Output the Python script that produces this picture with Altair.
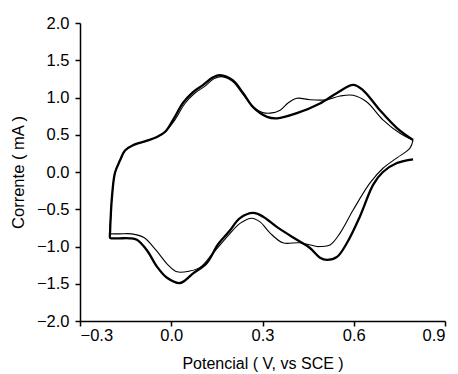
import altair as alt
import pandas as pd

# Thick curve (starts at +0.8 V, cathodic sweep, then anodic sweep)
thick_x = [0.795, 0.742, 0.696, 0.664, 0.62, 0.578, 0.545, 0.512, 0.489, 0.456, 0.413, 0.348,
           0.302, 0.269, 0.226, 0.19, 0.154, 0.117, 0.072, 0.029, -0.014, -0.047, -0.08, -0.113,
           -0.136, -0.17, -0.192, -0.201, -0.201, -0.199, -0.195, -0.185, -0.168, -0.152, -0.126,
           -0.08, -0.047, -0.02, 0.006, 0.039, 0.068, 0.105, 0.137, 0.16, 0.203, 0.236, 0.269,
           0.315, 0.348, 0.413, 0.489, 0.545, 0.598, 0.63, 0.686, 0.742, 0.795]
thick_y = [0.17, 0.12, 0.0, -0.17, -0.6, -0.95, -1.14, -1.18, -1.15, -1.02, -0.91, -0.74,
           -0.60, -0.55, -0.62, -0.8, -0.97, -1.22, -1.36, -1.49, -1.42, -1.27, -1.05, -0.91,
           -0.89, -0.89, -0.89, -0.885, -0.8, -0.6, -0.34, -0.01, 0.16, 0.29, 0.36,
           0.42, 0.47, 0.54, 0.70, 0.93, 1.06, 1.17, 1.27, 1.30, 1.23, 1.06, 0.87,
           0.74, 0.72, 0.79, 0.92, 1.06, 1.17, 1.1, 0.83, 0.59, 0.43]

# Thin curve (closed loop from +0.8 V)
thin_x = [0.795, 0.785, 0.742, 0.696, 0.653, 0.598, 0.555, 0.522, 0.489, 0.479, 0.423, 0.367,
          0.325, 0.292, 0.265, 0.226, 0.19, 0.137, 0.095, 0.06, 0.019, -0.01, -0.05, -0.09,
          -0.13, -0.17, -0.192, -0.201, -0.201, -0.199, -0.195, -0.185, -0.168, -0.152, -0.126,
          -0.08, -0.047, -0.02, 0.012, 0.045, 0.075, 0.11, 0.14, 0.165, 0.2, 0.236, 0.27, 0.3,
          0.325, 0.358, 0.385, 0.413, 0.456, 0.512, 0.555, 0.598, 0.643, 0.696, 0.752, 0.795]
thin_y = [0.43, 0.32, 0.19, 0.05, -0.15, -0.51, -0.82, -0.98, -1.0, -1.0, -0.95, -0.95,
          -0.82, -0.67, -0.62, -0.69, -0.84, -1.09, -1.28, -1.33, -1.34, -1.25, -1.05, -0.88,
          -0.83, -0.83, -0.83, -0.825, -0.75, -0.6, -0.34, -0.01, 0.16, 0.29, 0.36,
          0.42, 0.47, 0.54, 0.70, 0.92, 1.05, 1.15, 1.25, 1.28, 1.22, 1.04, 0.87, 0.8,
          0.79, 0.83, 0.93, 0.99, 0.97, 0.97, 1.02, 1.03, 0.94, 0.70, 0.52, 0.43]

x_ticks = [-0.3, 0.0, 0.3, 0.6, 0.9]
y_ticks = [-2.0, -1.5, -1.0, -0.5, 0.0, 0.5, 1.0, 1.5, 2.0]

rows = []
for i, (x, y) in enumerate(zip(thick_x, thick_y)):
    rows.append({"x": x, "y": y, "series": "thick", "i": i})
for i, (x, y) in enumerate(zip(thin_x, thin_y)):
    rows.append({"x": x, "y": y, "series": "thin", "i": i})
df = pd.DataFrame(rows)

FONT = "Liberation Sans"

chart = alt.Chart(df).mark_line(interpolate="catmull-rom", color="black").encode(
    x=alt.X("x:Q", scale=alt.Scale(domain=[-0.3, 0.9], nice=False, zero=False),
            axis=alt.Axis(values=x_ticks, format=".1f", title="Potencial ( V, vs SCE )",
                          labelPadding=1, titlePadding=12, titleFontSize=16)),
    y=alt.Y("y:Q", scale=alt.Scale(domain=[-2.0, 2.0], nice=False, zero=False),
            axis=alt.Axis(values=y_ticks, format=".1f", title="Corrente ( mA )",
                          labelPadding=6, titlePadding=10)),
    detail="series:N",
    order="i:Q",
    strokeWidth=alt.StrokeWidth("series:N", scale=alt.Scale(domain=["thick", "thin"], range=[2.3, 1.1]),
                                legend=None),
).properties(
    width=365, height=298,
    autosize=alt.AutoSizeParams(type="none"),
    padding={"left": 80, "top": 23, "right": 13, "bottom": 53},
).configure_view(stroke=None).configure_axis(
    grid=False, domainColor="black", domainWidth=1.5, tickColor="black", tickWidth=1.5,
    tickSize=5, labelFont=FONT, titleFont=FONT, labelFontSize=16.5, titleFontSize=16.5,
    labelColor="black", titleColor="black", titleFontWeight="normal",
)

chart.save("out.html", embed_options={"renderer": "svg", "actions": False})
